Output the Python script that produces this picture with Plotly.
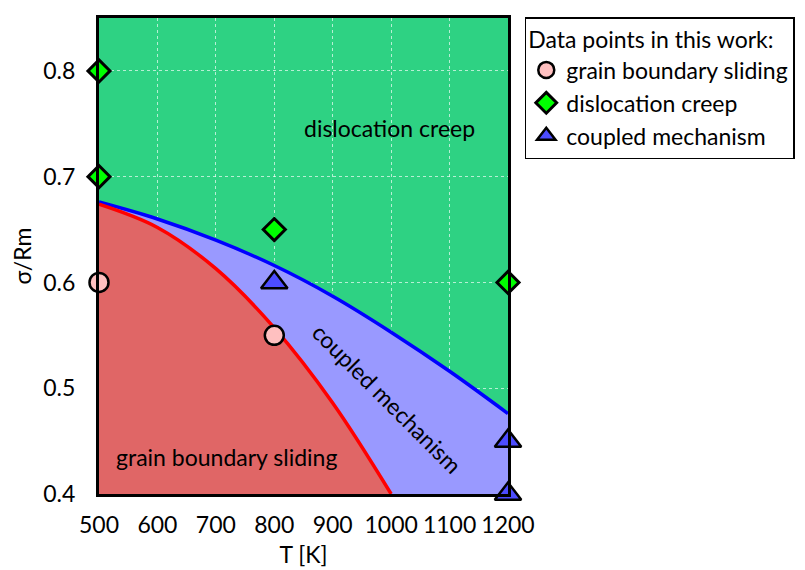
import plotly.graph_objects as go

# Boundary curves
curve_T = [500, 600, 700, 800, 900, 1000, 1100, 1200]
upper_boundary = [0.676, 0.660, 0.640, 0.616, 0.587, 0.553, 0.516, 0.476]
lower_T = [500, 600, 700, 800, 900, 1000]
lower_boundary = [0.674, 0.652, 0.613, 0.557, 0.486, 0.400]

# Data points
gbs_T = [500, 800]
gbs_s = [0.60, 0.55]
dc_T = [500, 500, 800, 1200]
dc_s = [0.80, 0.70, 0.65, 0.60]
cm_T = [800, 1200, 1200]
cm_s = [0.60, 0.45, 0.40]

FONT = "Lato, Carlito, Calibri, sans-serif"
FS = 23

fig = go.Figure()

fig.add_trace(go.Scatter(x=curve_T, y=upper_boundary, mode="lines",
                         line=dict(color="#0000ff", width=3.5, shape="spline", smoothing=1.0),
                         fill="tozeroy", fillcolor="#9999ff", showlegend=False, hoverinfo="skip"))
fig.add_trace(go.Scatter(x=lower_T, y=lower_boundary, mode="lines",
                         line=dict(color="#ff0000", width=3.5, shape="spline", smoothing=1.0),
                         fill="tozeroy", fillcolor="#e06666", showlegend=False, hoverinfo="skip"))

fig.add_trace(go.Scatter(x=gbs_T, y=gbs_s, mode="markers", name="grain boundary sliding",
                         marker=dict(symbol="circle", size=19, color="#ffc0c0", line=dict(color="black", width=2.5)),
                         cliponaxis=False))
fig.add_trace(go.Scatter(x=dc_T, y=dc_s, mode="markers", name="dislocation creep",
                         marker=dict(symbol="diamond", size=17, color="#00ff00", line=dict(color="black", width=3)),
                         cliponaxis=False))
fig.add_trace(go.Scatter(x=cm_T, y=cm_s, mode="markers", name="coupled mechanism",
                         marker=dict(symbol="triangle-up", size=23, color="#4d4dff", line=dict(color="black", width=2.5)),
                         cliponaxis=False))

fig.add_annotation(x=997, y=0.746, text="dislocation creep", showarrow=False, font=dict(size=FS, color="black"))
fig.add_annotation(x=718, y=0.435, text="grain boundary sliding", showarrow=False, font=dict(size=FS, color="black"))
fig.add_annotation(x=993, y=0.491, text="coupled mechanism", showarrow=False, textangle=45, font=dict(size=FS, color="black"))

fig.update_layout(
    width=805, height=570,
    margin=dict(l=87, r=305, t=7, b=84),
    paper_bgcolor="white",
    plot_bgcolor="#2ed283",
    font=dict(family=FONT, size=FS, color="black"),
    legend=dict(
        x=1.041, y=1.002, xanchor="left", yanchor="top",
        bordercolor="black", borderwidth=1.5, bgcolor="white",
        title=dict(text="Data points in this work:", font=dict(size=FS)),
        font=dict(size=FS), tracegroupgap=0, itemwidth=30,
    ),
    xaxis=dict(range=[500, 1200], dtick=100, tick0=500, showgrid=True,
               gridcolor="rgba(255,255,255,0.65)", griddash="dot", gridwidth=1,
               showline=True, linecolor="black", linewidth=3, mirror=True,
               ticks="", zeroline=False, ticklabelstandoff=8,
               title=dict(text="T [K]", standoff=11, font=dict(size=FS))),
    yaxis=dict(range=[0.4, 0.85], tickvals=[0.4, 0.5, 0.6, 0.7, 0.8], showgrid=True,
               gridcolor="rgba(255,255,255,0.65)", griddash="dot", gridwidth=1,
               showline=True, linecolor="black", linewidth=3, mirror=True,
               ticks="", zeroline=False, ticklabelstandoff=16,
               title=dict(text="σ/Rm", standoff=12, font=dict(size=FS))),
)

fig.write_html("out.html")
